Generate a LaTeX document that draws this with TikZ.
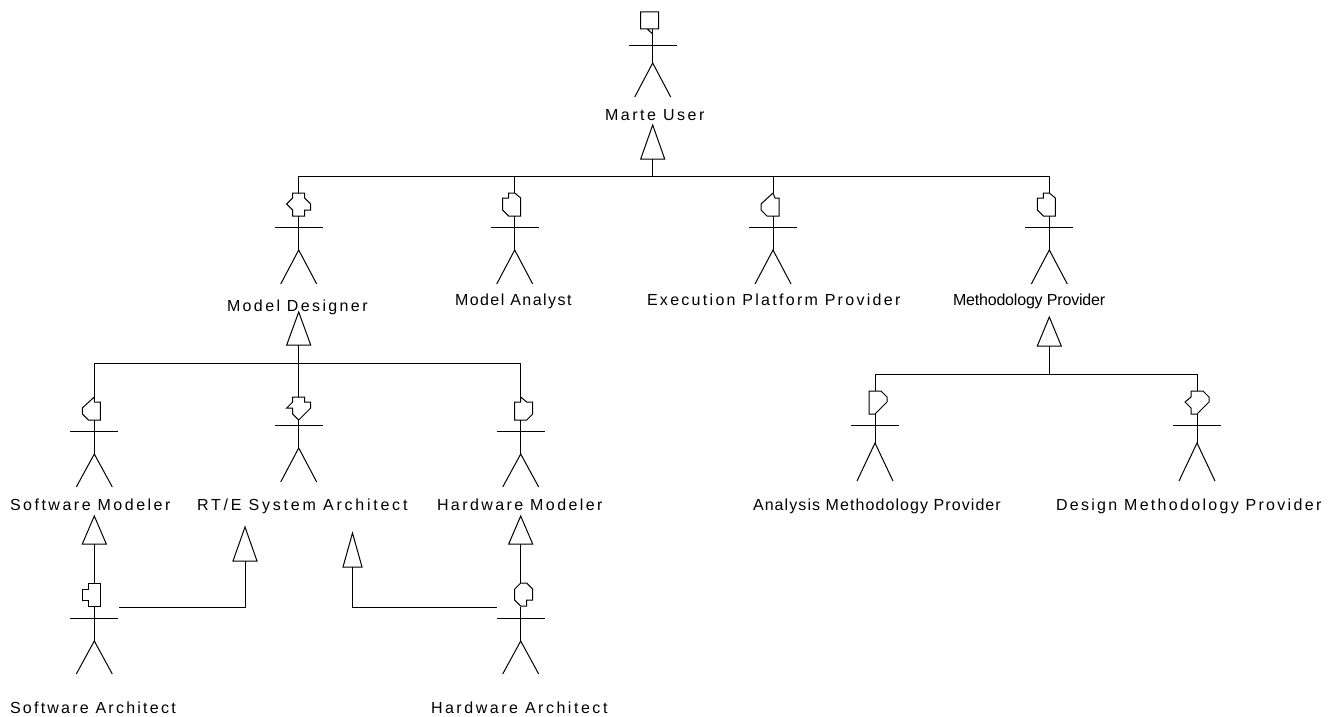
\documentclass[tikz,border=0pt]{standalone}
\usepackage{fontspec}
\setmainfont{Liberation Sans}
\tikzset{
  x=0.75pt,y=-0.75pt,
  ln/.style={draw=black,line width=0.75pt,line join=miter},
  headshape/.style={ln,fill=white},
  gentri/.style={ln,fill=white},
  lab/.style={anchor=base west,inner sep=0pt,outer sep=0pt,font=\fontsize{12pt}{14pt}\selectfont},
}
\newlength{\labw}
% \actor{name}{cx}{top}{headbottom}{arms}{hip}{legs}{head path}
\newcommand{\actor}[8]{%
  \begin{scope}[shift={(#2,#3)}]
    \coordinate (#1top) at (0,0);
    \draw[headshape] #8;
  \end{scope}
  \coordinate (#1hb) at (#2,#4);
  \coordinate (#1hip) at (#2,#6);
  \coordinate (#1al) at (#2-24,#5);
  \coordinate (#1ar) at (#2+24,#5);
  \coordinate (#1ll) at (#2-18,#7);
  \coordinate (#1lr) at (#2+18,#7);
  \draw[ln] (#1hb) -- (#1hip);
  \draw[ln] (#1al) -- (#1ar);
  \draw[ln] (#1ll) -- (#1hip) -- (#1lr);
}
% \gentri{name}{cx}{apex}{base}{half width}
\newcommand{\gentri}[5]{%
  \coordinate (#1a) at (#2,#3);
  \coordinate (#1b) at (#2,#4);
  \draw[gentri] (#1a) -- (#2+#5,#4) -- (#2-#5,#4) -- cycle;
}
% \fitlab{name}{x0}{x1}{baseline}{nchars}{text}
\newcommand{\fitlab}[6]{%
  \node[lab] (#1) at (#2,#4) {\settowidth{\labw}{#6}%
    \pgfmathsetmacro{\lsp}{((#3-#2)*0.75-\labw)/(#5-1)/12*100}%
    \addfontfeature{LetterSpace=\lsp}#6};
}
\begin{document}
\begin{tikzpicture}
\useasboundingbox (0,0) rectangle (1342,717);
% actors
\actor{mu}{652.7}{12}{29}{46}{63}{97}{(-12,0)--(6,0)--(6,17)--(-12,17)--cycle (-5.5,17)--(0,22)}
\actor{md}{298.7}{193}{216}{227}{250}{284}{(-6,0)--(6,0)--(6,5)--(12,11)--(12,17)--(6,17)--(6,23)--(-6,23)--(-6,17)--(-12,11)--(-6,5)--cycle}
\actor{ma}{514.7}{193}{216}{227}{250}{284}{(0,0)--(6,5)--(6,23)--(-6,23)--(-12,17)--(-12,5)--(-6,5)--(-6,0)--cycle}
\actor{ep}{773}{193}{216}{227}{250}{284}{(0,0)--(2,5)--(6,5)--(6,23)--(-6,23)--(-12,17)--(-12,11)--cycle}
\actor{mp}{1049.3}{193}{216}{227}{250}{284}{(-6,0)--(0,0)--(6,5)--(6,23)--(-6,23)--(-12,17)--(-12,5)--(-6,5)--cycle}
\actor{sm}{94.3}{397}{420}{431}{454}{487}{(0,0)--(0,5)--(6,5)--(6,23)--(-6,23)--(-12,17)--(-12,11)--cycle}
\actor{rt}{298.7}{397}{420}{425}{448}{482}{(-6,0)--(6,0)--(6,5)--(12,5)--(12,11)--(0,23)--(-6,17)--(-6,11)--(-12,11)--(-6,5)--cycle}
\actor{hm}{520.7}{397}{420}{431}{454}{487}{(0,0)--(6,5)--(12,5)--(12,17)--(6,23)--(-6,23)--(-6,5)--(0,5)--cycle}
\actor{sa}{94.3}{583}{607}{618}{641}{674}{(-6,0)--(6,0)--(6,23)--(-6,23)--(-6,17)--(-12,17)--(-12,6)--(-6,6)--cycle}
\actor{ha}{520.7}{583}{607}{618}{641}{674}{(0,0)--(6,0)--(12,6)--(12,17)--(6,17)--(6,23)--(0,23)--(-6,17)--(-6,6)--cycle}
\actor{am}{875}{391}{414}{425}{443}{481}{(-6,0)--(6,0)--(12,6)--(12,11)--(0,23)--(-6,23)--cycle}
\actor{dm}{1197}{391}{414}{425}{443}{481}{(-6,0)--(6,0)--(12,6)--(12,11)--(0,23)--(-6,23)--(-6,17)--(-12,11)--(-6,6)--cycle}
% triangles
\gentri{tmu}{652.7}{125}{159}{12}
\gentri{tmd}{298.7}{312}{345}{12}
\gentri{tmp}{1049.3}{317}{346}{12}
\gentri{tsm}{94.3}{516}{544}{12}
\gentri{thm}{520.7}{516}{544}{12}
\gentri{trs}{245}{527}{561}{12}
\gentri{trh}{352.5}{533}{567}{9.5}
% buses
\coordinate (bus1) at (652.7,176);
\coordinate (bus2) at (298.7,363);
\coordinate (bus3) at (1049.3,374);
\draw[ln] (tmub) -- (bus1);
\draw[ln] (mdtop) |- (mptop |- bus1) -- (mptop);
\draw[ln] (matop) -- (matop |- bus1);
\draw[ln] (eptop) -- (eptop |- bus1);
\draw[ln] (tmdb) -- (rttop);
\draw[ln] (smtop) |- (hmtop |- bus2) -- (hmtop);
\draw[ln] (tmpb) -- (bus3);
\draw[ln] (amtop) |- (dmtop |- bus3) -- (dmtop);
\draw[ln] (tsmb) -- (satop);
\draw[ln] (thmb) -- (hatop);
\coordinate (saout) at (118.5,607);
\coordinate (haout) at (497,607);
\draw[ln] (trsb) |- (saout);
\draw[ln] (trhb) |- (haout);
% labels
\fitlab{lmu}{605}{707}{120}{10}{Marte User}
\fitlab{lmd}{227}{370}{311.7}{14}{Model Designer}
\fitlab{lma}{455}{573}{305.7}{13}{Model Analyst}
\fitlab{lep}{647}{905}{305.7}{27}{Execution Platform Provider}
\fitlab{lmp}{953}{1105}{305.7}{20}{Methodology Provider}
\fitlab{lsm}{10}{173}{510.7}{16}{Software Modeler}
\fitlab{lrt}{197}{413}{510.7}{21}{RT/E System Architect}
\fitlab{lhm}{437}{605}{510.7}{16}{Hardware Modeler}
\fitlab{lsa}{10}{178}{713.5}{18}{Software Architect}
\fitlab{lha}{431}{610}{713.5}{18}{Hardware Architect}
\fitlab{lam}{753}{1003}{510.7}{29}{Analysis Methodology Provider}
\fitlab{ldm}{1056}{1326}{510.7}{27}{Design Methodology Provider}
\end{tikzpicture}
\end{document}
